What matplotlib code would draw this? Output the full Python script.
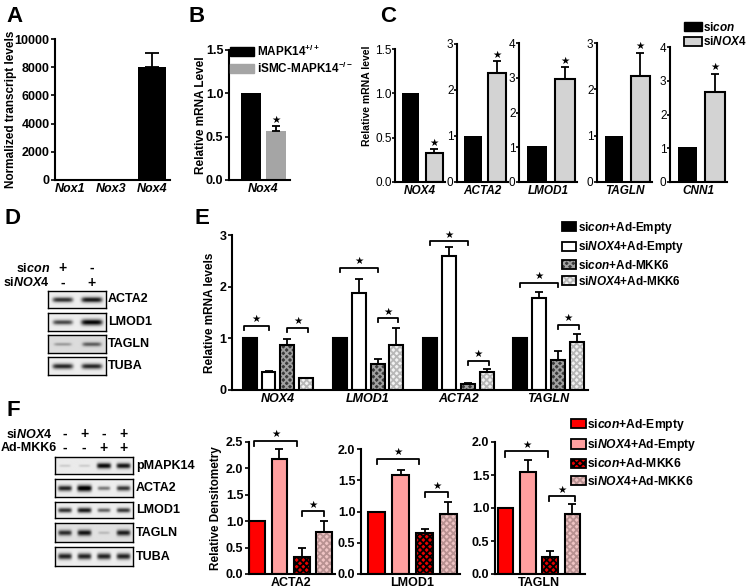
import numpy as np
import matplotlib
matplotlib.use('Agg')
import matplotlib.pyplot as plt
from matplotlib.patches import Patch
from matplotlib.transforms import blended_transform_factory

plt.rcParams['font.family'] = ['Liberation Sans', 'DejaVu Sans']
plt.rcParams['font.weight'] = 'bold'
plt.rcParams['axes.labelweight'] = 'bold'
plt.rcParams['mathtext.fontset'] = 'custom'
plt.rcParams['mathtext.rm'] = 'Liberation Sans:bold'
plt.rcParams['mathtext.it'] = 'Liberation Sans:italic:bold'
plt.rcParams['mathtext.bf'] = 'Liberation Sans:bold'
plt.rcParams['hatch.linewidth'] = 1.3

# ---- data ----
# A
a_genes = ['Nox1', 'Nox3', 'Nox4']
a_vals = [0, 0, 8000]
a_err = [0, 0, 1000]

# B
b_labels = ['MAPK14$^{+/+}$', 'iSMC-MAPK14$^{-/-}$']
b_vals = [1.0, 0.57]
b_err = [0, 0.05]

# C
c_genes = ['NOX4', 'ACTA2', 'LMOD1', 'TAGLN', 'CNN1']
c_sicon = [1.0, 1.0, 1.04, 0.99, 1.03]
c_sinox4 = [0.33, 2.38, 2.97, 2.29, 2.67]
c_err = [0.04, 0.24, 0.33, 0.5, 0.53]
c_ymax = [1.5, 3, 4, 3, 4]

# D blot (band strength per lane: sicon, siNOX4)
d_proteins = ['ACTA2', 'LMOD1', 'TAGLN', 'TUBA']
d_bands = [[0.75, 0.85], [0.65, 0.92], [0.25, 0.5], [0.78, 0.78]]
d_bg = [0.93, 0.93, 0.86, 0.93]
d_sicon = ['+', '-']
d_sinox4 = ['-', '+']

# E
e_genes = ['NOX4', 'LMOD1', 'ACTA2', 'TAGLN']
e_conds = ['si$\\mathit{con}$+Ad-Empty', 'si$\\mathit{NOX4}$+Ad-Empty',
           'si$\\mathit{con}$+Ad-MKK6', 'si$\\mathit{NOX4}$+Ad-MKK6']
e_vals = [[1.0, 1.0, 1.0, 1.0],
          [0.35, 1.88, 2.6, 1.78],
          [0.87, 0.5, 0.11, 0.58],
          [0.23, 0.87, 0.34, 0.93]]
e_err = [[0, 0, 0, 0],
         [0.02, 0.27, 0.17, 0.12],
         [0.11, 0.1, 0.02, 0.17],
         [0.01, 0.33, 0.07, 0.15]]
# (from bar, to bar, height) per gene
e_brackets = [[(-0.3, 1.0, 1.24), (2.0, 3.1, 1.2)],
              [(0.0, 2.0, 2.36), (2.0, 3.1, 1.39)],
              [(0.0, 2.0, 2.88), (2.0, 3.1, 0.56)],
              [(0.0, 2.0, 2.07), (2.0, 3.1, 1.26)]]

# F blot (siNOX4 -,+,-,+ / Ad-MKK6 -,-,+,+)
f_proteins = ['pMAPK14', 'ACTA2', 'LMOD1', 'TAGLN', 'TUBA']
f_bands = [[0.12, 0.12, 0.9, 0.85],
           [0.8, 1.0, 0.45, 0.72],
           [0.75, 0.85, 0.55, 0.72],
           [0.72, 0.82, 0.15, 0.78],
           [0.8, 0.8, 0.8, 0.8]]
f_bg = [0.92, 0.93, 0.93, 0.88, 0.93]
f_sinox4 = ['-', '+', '-', '+']
f_mkk6 = ['-', '-', '+', '+']

# F densitometry
f_genes = ['ACTA2', 'LMOD1', 'TAGLN']
f_vals = [[1.0, 1.0, 1.0],
          [2.18, 1.58, 1.54],
          [0.32, 0.65, 0.26],
          [0.8, 0.96, 0.91]]
f_err = [[0, 0, 0],
         [0.19, 0.08, 0.18],
         [0.17, 0.07, 0.09],
         [0.2, 0.2, 0.15]]
f_ymax = [2.5, 2.0, 2.0]
f_brackets = [[(-0.15, 1.8, 2.52), (2.0, 3.0, 1.19)],
              [(0.0, 1.75, 1.84), (2.0, 3.0, 1.31)],
              [(0.0, 1.9, 1.86), (1.95, 3.1, 1.18)]]

# ---- helpers ----
W, H = 750, 588
fig = plt.figure(figsize=(7.5, 5.88), dpi=100)


def box(l, t, r, b):
    return fig.add_axes([l / W, 1 - b / H, (r - l) / W, (b - t) / H])


def ftext(x, y, s, **kw):
    fig.text(x / W, 1 - y / H, s, **kw)


def style(ax, size=9, weight='bold'):
    for s in ['top', 'right']:
        ax.spines[s].set_visible(False)
    for s in ['left', 'bottom']:
        ax.spines[s].set_linewidth(1.5)
    ax.tick_params(axis='y', direction='out', length=3, width=1.2,
                   labelsize=size, pad=1)
    ax.tick_params(axis='x', length=0, labelsize=size, pad=2)
    for lab in ax.get_yticklabels():
        lab.set_fontweight(weight)


def ylab(ax, s, xpx, size=8.5, yfrac=0.5):
    # xpx: right edge of the rotated label, in figure pixels
    ax.set_ylabel(s, fontsize=size)
    ax.yaxis.set_label_coords(
        xpx / W, yfrac, transform=blended_transform_factory(fig.transFigure, ax.transAxes))


def err_up(ax, x, v, e, cap=3):
    x, v, e = np.asarray(x, float), np.asarray(v, float), np.asarray(e, float)
    m = e > 0
    ax.errorbar(x[m], v[m], yerr=[np.zeros(m.sum()), e[m]], fmt='none',
                ecolor='k', elinewidth=1.3, capsize=cap, capthick=1.3)


def star(ax, x, y, size=7.5):
    ax.annotate('\u2605', xy=(x, y), xytext=(0, 1.2), textcoords='offset points',
                ha='center', va='bottom', fontsize=size, family='DejaVu Sans',
                annotation_clip=False)


def bracket(ax, x1, x2, y, d):
    ax.plot([x1, x1, x2, x2], [y - d, y, y, y - d], color='k', lw=1.3,
            clip_on=False)
    star(ax, (x1 + x2) / 2, y)


def hbar(ax, x, v, w, face, hcol, hatch='xxxxx'):
    ax.bar(x, v, w, color=face, hatch=hatch, edgecolor=hcol, linewidth=0)
    ax.bar(x, v, w, fill=False, edgecolor='k', linewidth=1.5)


def draw_blot(ax, lanes, bg):
    n = len(lanes)
    h, w = 30, 40 * n
    yy, xx = np.mgrid[0:h, 0:w]
    img = np.full((h, w), bg, dtype=float)
    for k, v in enumerate(lanes):
        cx = (k + 0.5) * 40
        sx = 11 + 4 * v
        sy = 1.8 + 3.5 * v
        img -= v * np.exp(-(np.abs(xx - cx) / sx) ** 6) * \
            np.exp(-((yy - h / 2) / sy) ** 2)
    ax.imshow(np.clip(img, 0, 1), cmap='gray', vmin=0, vmax=1, aspect='auto',
              extent=(0, n, 0, 1), interpolation='bilinear')
    ax.set_xticks([])
    ax.set_yticks([])
    for s in ax.spines.values():
        s.set_linewidth(1.0)


# panel letters
for lab, x, y in [('A', 6, 6), ('B', 188, 6), ('C', 380, 6),
                  ('D', 4, 208), ('E', 195, 208), ('F', 6, 400)]:
    ftext(x, y, lab, fontsize=16, fontweight='bold', ha='left', va='top')

# ---- A ----
ax = box(55, 39, 170, 180)
xa = np.arange(len(a_genes))
ax.bar(xa, a_vals, 0.68, color='k')
err_up(ax, xa, a_vals, a_err, cap=5)
ax.set_xlim(-0.37, 2.44)
ax.set_ylim(0, 10000)
ax.set_yticks(np.arange(0, 10001, 2000))
ax.set_xticks(xa)
ax.set_xticklabels(a_genes, fontstyle='italic')
style(ax, 9)
ylab(ax, 'Normalized transcript levels', 17, 8.5)

# ---- B ----
ax = box(229, 50, 290, 180)
xb = np.arange(2)
bars = ax.bar(xb, b_vals, 0.8, color=['k', '#a5a5a5'])
err_up(ax, xb, b_vals, b_err)
star(ax, 1, b_vals[1] + b_err[1])
ax.set_xlim(-0.88, 1.56)
ax.set_ylim(0, 1.5)
ax.set_yticks([0, 0.5, 1.0, 1.5])
ax.set_yticklabels(['0.0', '0.5', '1.0', '1.5'])
ax.set_xticks([0.5])
ax.set_xticklabels(['Nox4'], fontstyle='italic')
style(ax, 9)
ylab(ax, 'Relative mRNA Level', 207, 8.5)
ax.legend([Patch(color='k'), Patch(color='#a5a5a5')], b_labels,
          loc='upper left', bbox_to_anchor=(0.02, 1.05), frameon=False,
          fontsize=8.5, handlelength=2.0, handleheight=0.8,
          handletextpad=0.3, labelspacing=0.15, borderpad=0, borderaxespad=0)

# ---- C ----
c_boxes = [(395, 49, 445), (457, 44, 508), (519, 43, 577),
           (597, 43, 652), (670, 47, 727)]
for i, g in enumerate(c_genes):
    l, t, r = c_boxes[i]
    ax = box(l, t, r, 182)
    ax.bar(0, c_sicon[i], 0.72, color='k')
    ax.bar(1, c_sinox4[i], 0.72, color='#d3d3d3', edgecolor='k', linewidth=1.5)
    err_up(ax, [1], [c_sinox4[i]], [c_err[i]])
    star(ax, 1, c_sinox4[i] + c_err[i])
    ax.set_xlim(-0.65, 1.45)
    ax.set_ylim(0, c_ymax[i])
    if c_ymax[i] == 1.5:
        ax.set_yticks([0, 0.5, 1.0, 1.5])
        ax.set_yticklabels(['0.0', '0.5', '1.0', '1.5'])
    else:
        ax.set_yticks(np.arange(0, c_ymax[i] + 1))
    ax.set_xticks([0.4])
    ax.set_xticklabels([g], fontstyle='italic')
    style(ax, 8.5, weight='normal')
    ax.tick_params(axis='y', length=2, pad=0.5)
    if i == 0:
        ylab(ax, 'Relative mRNA level', 372, 7.5, yfrac=0.65)
fig.legend([Patch(color='k'), Patch(facecolor='#d3d3d3', edgecolor='k', linewidth=1.3)],
           ['si$\\mathit{con}$', 'si$\\mathit{NOX4}$'],
           loc='upper left', bbox_to_anchor=(684 / W, 1 - 21 / H), frameon=False,
           fontsize=8.5, handlelength=1.5, handleheight=0.8, handletextpad=0.15,
           labelspacing=0.1, borderpad=0, borderaxespad=0)

# ---- D ----
d_rows = [(291, 308), (313, 331), (335, 353), (357, 375)]
for i, p in enumerate(d_proteins):
    t, b = d_rows[i]
    ax = box(48, t, 106, b)
    draw_blot(ax, d_bands[i], d_bg[i])
    ax.set_xlim(0, 2)
    ftext(108, (t + b) / 2, p, fontsize=9, va='center', ha='left')
    if i == 0:
        tr = blended_transform_factory(ax.transData, fig.transFigure)
        for k in range(2):
            ax.text(k + 0.5, 1 - 268 / H, d_sicon[k], transform=tr,
                    ha='center', va='center', fontsize=10)
            ax.text(k + 0.5, 1 - 283 / H, d_sinox4[k], transform=tr,
                    ha='center', va='center', fontsize=10)
ftext(50, 268, 'si$\\mathit{con}$', fontsize=9, ha='right', va='center')
ftext(50, 283, 'si$\\mathit{NOX4}$', fontsize=9, ha='right', va='center')

# ---- E ----
ax = box(232, 235, 588, 390)
xg = np.arange(len(e_genes))
off = 0.21
bw = 0.155
e_face = ['k', 'white', '#3a3a3a', '#f2f2f2']
e_hatch = [None, None, '#a0a0a0', '#b8b8b8']
for j in range(4):
    xs = xg + (j - 1.5) * off
    if e_hatch[j] is None:
        ax.bar(xs, e_vals[j], bw, color=e_face[j], edgecolor='k', linewidth=1.5)
    else:
        hbar(ax, xs, e_vals[j], bw, e_face[j], e_hatch[j])
    err_up(ax, xs, e_vals[j], e_err[j], cap=3)
for g in range(len(e_genes)):
    for b0, b1, y in e_brackets[g]:
        bracket(ax, g + (b0 - 1.5) * off, g + (b1 - 1.5) * off, y, 0.08)
ax.set_xlim(-0.51, 3.44)
ax.set_ylim(0, 3)
ax.set_yticks([0, 1, 2, 3])
ax.set_xticks(xg)
ax.set_xticklabels(e_genes, fontstyle='italic')
style(ax, 9)
ylab(ax, 'Relative mRNA levels', 216, 8.5)
e_handles = []
for j in range(4):
    if e_hatch[j] is None:
        e_handles.append(Patch(facecolor=e_face[j], edgecolor='k', linewidth=1.3))
    else:
        e_handles.append((Patch(facecolor=e_face[j], hatch='xxxxx', edgecolor=e_hatch[j], linewidth=0),
                          Patch(fill=False, edgecolor='k', linewidth=1.3)))
fig.legend(e_handles, e_conds, loc='upper left',
           bbox_to_anchor=(562 / W, 1 - 220 / H), frameon=False, fontsize=8.5,
           handlelength=1.2, handleheight=0.8, handletextpad=0.15,
           labelspacing=0.28, borderpad=0, borderaxespad=0)

# ---- F blot ----
f_rows = [(457, 474), (479, 497), (502, 518), (523, 542), (547, 566)]
for i, p in enumerate(f_proteins):
    t, b = f_rows[i]
    ax = box(55, t, 133, b)
    draw_blot(ax, f_bands[i], f_bg[i])
    ax.set_xlim(0, 4)
    ftext(136, (t + b) / 2, p, fontsize=9, va='center', ha='left')
    if i == 0:
        tr = blended_transform_factory(ax.transData, fig.transFigure)
        for k in range(4):
            ax.text(k + 0.5, 1 - 434 / H, f_sinox4[k], transform=tr,
                    ha='center', va='center', fontsize=10)
            ax.text(k + 0.5, 1 - 448 / H, f_mkk6[k], transform=tr,
                    ha='center', va='center', fontsize=10)
ftext(53, 434, 'si$\\mathit{NOX4}$', fontsize=9, ha='right', va='center')
ftext(57, 448, 'Ad-MKK6', fontsize=9, ha='right', va='center')

# ---- F densitometry ----
f_boxes = [(249, 442, 335, (-0.36, 3.49)),
           (361, 449, 460, (-0.65, 3.48)),
           (495, 442, 585, (-0.47, 3.56))]
f_face = ['#ff0000', '#ff9f9f', '#e80000', '#efc4c4']
f_hatch = [None, None, '#000000', '#b89292']
for i, g in enumerate(f_genes):
    l, t, r, xl = f_boxes[i]
    ax = box(l, t, r, 574)
    for j in range(4):
        v = f_vals[j][i]
        if f_hatch[j] is None:
            ax.bar(j, v, 0.7, color=f_face[j], edgecolor='k', linewidth=1.5)
        else:
            hbar(ax, [j], [v], 0.7, f_face[j], f_hatch[j])
        err_up(ax, [j], [v], [f_err[j][i]], cap=3)
    d = 0.04 * f_ymax[i]
    for b0, b1, y in f_brackets[i]:
        bracket(ax, b0, b1, y, d)
    ax.set_xlim(*xl)
    ax.set_ylim(0, f_ymax[i])
    ticks = np.arange(0, f_ymax[i] + 0.01, 0.5)
    ax.set_yticks(ticks)
    ax.set_yticklabels(['%.1f' % v for v in ticks])
    ax.set_xticks([1.5])
    ax.set_xticklabels([g])
    style(ax, 9)
    if i == 0:
        ylab(ax, 'Relative Densitometry', 222, 8.5)
f_handles = []
for j in range(4):
    if f_hatch[j] is None:
        f_handles.append(Patch(facecolor=f_face[j], edgecolor='k', linewidth=1.3))
    else:
        f_handles.append((Patch(facecolor=f_face[j], hatch='xxxxx', edgecolor=f_hatch[j], linewidth=0),
                          Patch(fill=False, edgecolor='k', linewidth=1.3)))
fig.legend(f_handles, e_conds, loc='upper left',
           bbox_to_anchor=(571 / W, 1 - 417 / H), frameon=False, fontsize=8.7,
           handlelength=1.2, handleheight=0.8, handletextpad=0.15,
           labelspacing=0.35, borderpad=0, borderaxespad=0)

fig.savefig('out.png', dpi=100)
